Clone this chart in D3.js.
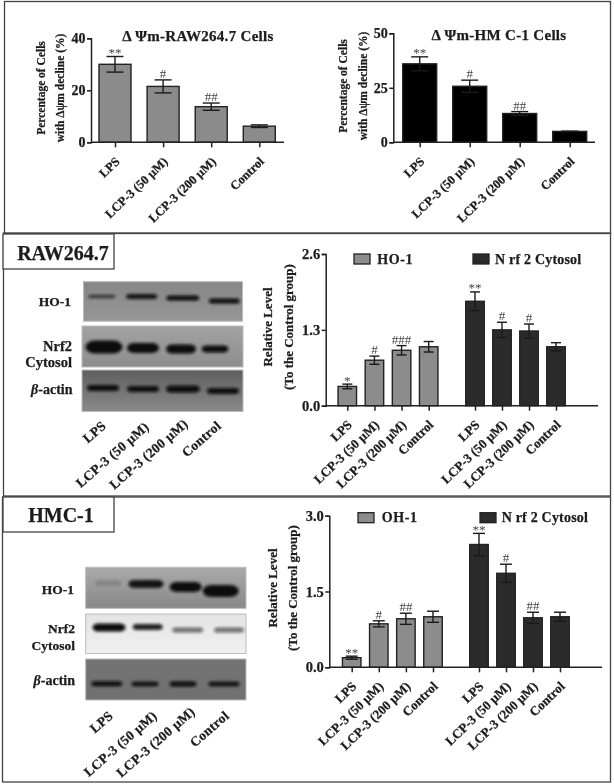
<!DOCTYPE html>
<html>
<head>
<meta charset="utf-8">
<script src="https://d3js.org/d3.v7.min.js"></script>
<style>
  html, body { margin: 0; padding: 0; background: #fff; }
  svg { display: block; }
  text { font-family: "Liberation Serif", serif; font-weight: bold; fill: #1c1c1c; stroke: #1c1c1c; stroke-width: 0.25px; }
  .axis line, .axis path { stroke: #222; stroke-width: 1.5; }
  .blur { filter: blur(0.45px); }
</style>
</head>
<body>
<svg width="614" height="784"></svg>
<script>
// data
var doses = ["LPS", "LCP-3 (50 µM)", "LCP-3 (200 µM)", "Control"];

var rawMmp = [30, 21.5, 13.7, 6.2];
var rawMmpErr = [3, 2.5, 1.4, 0.5];
var rawMmpSig = ["**", "#", "##", ""];
var rawMmpTicks = [0, 20, 40];

var hmcMmp = [36, 25.7, 13.2, 5];
var hmcMmpErr = [3.2, 2.8, 0.9, 0];
var hmcMmpSig = ["**", "#", "##", ""];
var hmcMmpTicks = [0, 25, 50];

var rawHo = [0.33, 0.78, 0.95, 1.01];
var rawHoErr = [0.04, 0.07, 0.08, 0.09];
var rawHoSig = ["*", "#", "###", ""];
var rawNrf = [1.79, 1.3, 1.28, 1.01];
var rawNrfErr = [0.16, 0.13, 0.12, 0.07];
var rawNrfSig = ["**", "#", "#", ""];
var rawTicks = [0, 1.3, 2.6];

var hmcHo = [0.19, 0.86, 0.96, 1];
var hmcHoErr = [0.03, 0.06, 0.11, 0.11];
var hmcHoSig = ["**", "#", "##", ""];
var hmcNrf = [2.43, 1.86, 0.98, 1];
var hmcNrfErr = [0.22, 0.18, 0.11, 0.09];
var hmcNrfSig = ["**", "#", "##", ""];
var hmcTicks = [0, 1.5, 3];

var svg = d3.select("svg"),
    root = svg.append("g").attr("class", "blur"),
    defs = svg.append("defs");

defs.append("filter").attr("id", "soft")
    .attr("x", "-30%").attr("y", "-80%").attr("width", "160%").attr("height", "260%")
  .append("feGaussianBlur").attr("stdDeviation", 1.4);

// frames round the three rows
var frames = [[4.5, 1.5, 606, 232], [3.5, 233, 607, 263], [2.5, 497, 608, 285]];
root.selectAll(".frame").data(frames).enter().append("rect")
    .attr("class", "frame")
    .attr("x", function(d) { return d[0]; })
    .attr("y", function(d) { return d[1]; })
    .attr("width", function(d) { return d[2]; })
    .attr("height", function(d) { return d[3]; })
    .attr("fill", "none")
    .attr("stroke", "#444")
    .attr("stroke-width", 1.3);

var boxes = [
  {x: 3, y: 234, w: 111, h: 35, text: "RAW264.7", tx: 63, ty: 260},
  {x: 3, y: 497, w: 111, h: 35, text: "HMC-1", tx: 61, ty: 522}
];
boxes.forEach(function(b) {
  root.append("rect").attr("x", b.x).attr("y", b.y).attr("width", b.w).attr("height", b.h)
      .attr("fill", "#fff").attr("stroke", "#444").attr("stroke-width", 1.3);
  root.append("text").attr("x", b.tx).attr("y", b.ty).attr("text-anchor", "middle")
      .attr("font-size", 20).text(b.text);
});

// one bar group: bars, error bars, significance marks
function drawBars(g, x, y, values, errs, sigs, opt) {
  var row = doses.map(function(d, i) {
    return {name: d, v: values[i], e: errs[i], s: sigs[i]};
  });
  var bw = opt.barWidth, cap = opt.cap;

  g.append("g").selectAll("rect").data(row).enter().append("rect")
      .attr("x", function(d) { return x(d.name) - bw / 2; })
      .attr("width", bw)
      .attr("y", function(d) { return y(d.v); })
      .attr("height", function(d) { return y(0) - y(d.v); })
      .attr("fill", opt.fill)
      .attr("stroke", "#222")
      .attr("stroke-width", 1.4);

  var err = g.append("g").selectAll("g").data(row).enter().append("g")
      .attr("stroke", "#1a1a1a").attr("stroke-width", 1.4);
  err.append("line")
      .attr("x1", function(d) { return x(d.name); })
      .attr("x2", function(d) { return x(d.name); })
      .attr("y1", function(d) { return y(d.v - d.e); })
      .attr("y2", function(d) { return y(d.v + d.e); });
  [1, -1].forEach(function(side) {
    err.append("line")
        .attr("x1", function(d) { return x(d.name) - cap / 2; })
        .attr("x2", function(d) { return x(d.name) + cap / 2; })
        .attr("y1", function(d) { return y(d.v + side * d.e); })
        .attr("y2", function(d) { return y(d.v + side * d.e); });
  });

  g.append("g").selectAll("text").data(row).enter().append("text")
      .attr("x", function(d) { return x(d.name); })
      .attr("y", function(d) { return y(d.v + d.e) + (d.s.charAt(0) == "*" ? 0.5 : -2); })
      .attr("text-anchor", "middle")
      .attr("font-size", 13)
      .style("font-weight", "normal")
      .style("stroke", "none")
      .style("fill", "#444")
      .text(function(d) { return d.s; });
}

function xAxisLabels(g, x, y0, size) {
  var ax = g.append("g").attr("class", "axis")
      .attr("transform", "translate(0," + y0 + ")")
      .call(d3.axisBottom(x).tickSize(5));
  ax.select(".domain").remove();
  ax.selectAll("text")
      .attr("font-size", size)
      .attr("text-anchor", "end")
      .attr("dx", 0).attr("dy", 0).attr("y", 0).attr("x", 0)
      .attr("transform", "translate(5,20) rotate(-44)");
}

function yAxis(g, p, y, ticks, fmt) {
  var ax = g.append("g").attr("class", "axis")
      .attr("transform", "translate(" + p.left + ",0)")
      .call(d3.axisLeft(y).tickValues(ticks).tickFormat(fmt).tickSize(4).tickPadding(1.5));
  ax.selectAll("text").attr("font-size", p.tickSize);
  g.append("line").attr("x1", p.left).attr("x2", p.right)
      .attr("y1", y(0)).attr("y2", y(0))
      .attr("stroke", "#222").attr("stroke-width", 1.5);
}

function yTitle(g, x, cy, text, size) {
  g.append("text")
      .attr("transform", "translate(" + x + "," + cy + ") rotate(-90)")
      .attr("text-anchor", "middle")
      .attr("font-size", size)
      .text(text);
}

// top row
var topPanels = [
  {left: 91, right: 284, y0: 142.3, y1: 38.3, max: 40, ticks: rawMmpTicks, values: rawMmp, errs: rawMmpErr, sigs: rawMmpSig,
   first: 115, last: 259.3, barWidth: 32, cap: 17, fill: "#8b8b8b", tickSize: 14,
   title: "Δ Ψm-RAW264.7 Cells", titleX: 198, titleY: 41,
   y1Label: "Percentage of Cells", y1X: 45, y2Label: "with Δψm decline (%)", y2X: 64, labelCy: 88},
  {left: 393.3, right: 595, y0: 142.3, y1: 33.3, max: 50, ticks: hmcMmpTicks, values: hmcMmp, errs: hmcMmpErr, sigs: hmcMmpSig,
   first: 419.7, last: 569.7, barWidth: 34, cap: 17, fill: "#000", tickSize: 14,
   title: "Δ Ψm-HM C-1 Cells", titleX: 499, titleY: 40,
   y1Label: "Percentage of Cells", y1X: 347, y2Label: "with Δψm decline (%)", y2X: 367, labelCy: 86}
];

topPanels.forEach(function(p) {
  var g = root.append("g");
  var y = d3.scaleLinear().domain([0, p.max]).range([p.y0, p.y1]);
  var x = d3.scalePoint().domain(doses).range([p.first, p.last]);
  drawBars(g, x, y, p.values, p.errs, p.sigs, p);
  yAxis(g, p, y, p.ticks, d3.format("d"));
  xAxisLabels(g, x, p.y0, 12.5);
  g.append("text").attr("x", p.titleX).attr("y", p.titleY).attr("text-anchor", "middle")
      .attr("font-size", 15).style("letter-spacing", "0.3px").text(p.title);
  yTitle(g, p.y1X, p.labelCy, p.y1Label, 11.5);
  yTitle(g, p.y2X, p.labelCy, p.y2Label, 11.5);
});

// relative level charts
var levelPanels = [
  {left: 325.7, right: 598, y0: 405.7, y1: 254, max: 2.6, ticks: rawTicks,
   a: rawHo, aErr: rawHoErr, aSig: rawHoSig, b: rawNrf, bErr: rawNrfErr, bSig: rawNrfSig,
   aRange: [347.3, 428.7], bRange: [475, 556], cap: 10,
   legendA: "HO-1", swA: 354, swY: 254, txA: 377.3, swB: 473, txB: 495, txY: 263.5,
   lab1X: 272, lab2X: 293, labelCy: 327},
  {left: 329.3, right: 602, y0: 667.3, y1: 515.7, max: 3, ticks: hmcTicks,
   a: hmcHo, aErr: hmcHoErr, aSig: hmcHoSig, b: hmcNrf, bErr: hmcNrfErr, bSig: hmcNrfSig,
   aRange: [351.7, 433], bRange: [479, 560], cap: 12,
   legendA: "OH-1", swA: 358, swY: 512.7, txA: 381.7, swB: 480, txB: 501.7, txY: 522,
   lab1X: 277, lab2X: 297, labelCy: 588}
];

levelPanels.forEach(function(p) {
  var g = root.append("g");
  p.tickSize = 14.5;
  var y = d3.scaleLinear().domain([0, p.max]).range([p.y0, p.y1]);
  var xa = d3.scalePoint().domain(doses).range(p.aRange);
  var xb = d3.scalePoint().domain(doses).range(p.bRange);
  drawBars(g, xa, y, p.a, p.aErr, p.aSig, {barWidth: 18.5, cap: p.cap, fill: "#8c8c8c"});
  drawBars(g, xb, y, p.b, p.bErr, p.bSig, {barWidth: 18.5, cap: p.cap, fill: "#2b2b2b"});
  yAxis(g, p, y, p.ticks, d3.format(".1f"));
  xAxisLabels(g, xa, p.y0, 13);
  xAxisLabels(g, xb, p.y0, 13);
  yTitle(g, p.lab1X, p.labelCy, "Relative Level", 13);
  yTitle(g, p.lab2X, p.labelCy, "(To the Control group)", 13);

  g.append("rect").attr("x", p.swA).attr("y", p.swY).attr("width", 16).attr("height", 10)
      .attr("fill", "#8c8c8c").attr("stroke", "#222").attr("stroke-width", 1.3);
  g.append("rect").attr("x", p.swB).attr("y", p.swY).attr("width", 16).attr("height", 10)
      .attr("fill", "#2b2b2b").attr("stroke", "#222").attr("stroke-width", 1.3);
  g.append("text").attr("x", p.txA).attr("y", p.txY).attr("font-size", 14)
      .style("letter-spacing", "0.6px").text(p.legendA);
  g.append("text").attr("x", p.txB).attr("y", p.txY).attr("font-size", 14)
      .style("letter-spacing", "0.2px").text("N rf 2 Cytosol");
});

// western blots, painted as soft bands on grey strips
var blots = [
  {x: 83.5, y: 281.7, w: 159, h: 39.5, c: ["#868686", "#979797"],
   bx: [101.7, 141.7, 182.7, 224.3], by: [296.5, 296.5, 298, 301], bw: [27, 31, 33, 31], bh: [3, 5, 5, 5], op: [0.75, 0.95, 1, 1]},
  {x: 82, y: 326, w: 161, h: 41, c: ["#a2a2a2", "#8e8e8e"],
   bx: [104, 143, 181, 215], by: [347, 348, 349, 349], bw: [37, 32, 30, 27], bh: [13, 10, 9, 7], op: [1, 1, 1, 1]},
  {x: 82, y: 370, w: 161, h: 41.5, c: ["#5e5e5e", "#8a8a8a"],
   bx: [103, 143, 183, 223], by: [388, 389, 389, 391], bw: [32, 32, 34, 32], bh: [6, 6, 7, 6], op: [1, 1, 1, 1]},
  {x: 85.7, y: 567.3, w: 160.3, h: 41, c: ["#aaaaaa", "#888888"],
   bx: [108, 146, 185.7, 220.7], by: [583, 584, 587, 591], bw: [26, 35, 32, 36], bh: [5, 8, 10, 12], op: [0.18, 0.95, 1, 1]},
  {x: 85.7, y: 614, w: 160.3, h: 39.5, c: ["#e4e4e4", "#f0f0f0"],
   bx: [109, 147.7, 187.7, 229], by: [627.5, 627, 630, 630], bw: [33, 30, 31, 30], bh: [8, 6, 5, 5], op: [1, 0.9, 0.55, 0.55]},
  {x: 85.7, y: 659, w: 160.3, h: 41, c: ["#747474", "#707070"],
   bx: [106.7, 145, 183, 224], by: [683.7, 684, 684, 684], bw: [31, 27, 27, 31], bh: [5, 4.5, 5, 4.5], op: [1, 1, 1, 1]}
];

blots.forEach(function(b, i) {
  var grad = defs.append("linearGradient").attr("id", "strip" + i)
      .attr("x1", 0).attr("x2", 0).attr("y1", 0).attr("y2", 1);
  grad.append("stop").attr("offset", 0).attr("stop-color", b.c[0]);
  grad.append("stop").attr("offset", 1).attr("stop-color", b.c[1]);
  var g = root.append("g");
  g.append("rect").attr("x", b.x).attr("y", b.y).attr("width", b.w).attr("height", b.h)
      .attr("fill", "url(#strip" + i + ")").attr("stroke", "#bbb").attr("stroke-width", 1);
  g.selectAll(".band").data(b.bx).enter().append("rect")
      .attr("class", "band")
      .attr("x", function(d, k) { return d - b.bw[k] / 2; })
      .attr("y", function(d, k) { return b.by[k] - b.bh[k] / 2; })
      .attr("width", function(d, k) { return b.bw[k]; })
      .attr("height", function(d, k) { return b.bh[k]; })
      .attr("rx", function(d, k) { return b.bh[k] * 0.7; })
      .attr("fill", "#0c0c0c")
      .attr("opacity", function(d, k) { return b.op[k]; })
      .attr("filter", "url(#soft)");
});

var blotLabels = [
  {lines: ["HO-1"], right: 71, ys: [305.5], size: 13.5},
  {lines: ["Nrf2", "Cytosol"], right: 72, ys: [351, 367], size: 14.5},
  {beta: true, right: 72.5, ys: [394], size: 14},
  {lines: ["HO-1"], right: 74, ys: [594], size: 13.5},
  {lines: ["Nrf2", "Cytosol"], right: 75, ys: [633, 650], size: 13.5},
  {beta: true, right: 75, ys: [685], size: 14}
];
blotLabels.forEach(function(l) {
  if (l.beta) {
    var t = root.append("text").attr("x", l.right).attr("y", l.ys[0]).attr("text-anchor", "end").attr("font-size", l.size);
    t.append("tspan").style("font-style", "italic").text("β");
    t.append("tspan").text("-actin");
  } else {
    l.lines.forEach(function(s, k) {
      root.append("text").attr("x", l.right).attr("y", l.ys[k]).attr("text-anchor", "end")
          .attr("font-size", l.size).text(s);
    });
  }
});

var laneLabels = [
  {xs: [107, 150, 189, 222], ys: [427, 428, 425, 427]},
  {xs: [114, 158, 196, 230], ys: [717, 717, 713, 717]}
];
laneLabels.forEach(function(l) {
  root.append("g").selectAll("text").data(doses).enter().append("text")
      .attr("transform", function(d, i) {
        return "translate(" + l.xs[i] + "," + l.ys[i] + ") rotate(-41)";
      })
      .attr("text-anchor", "end")
      .attr("font-size", 13.5)
      .style("letter-spacing", "0.3px")
      .text(function(d) { return d; });
});
</script>
</body>
</html>
